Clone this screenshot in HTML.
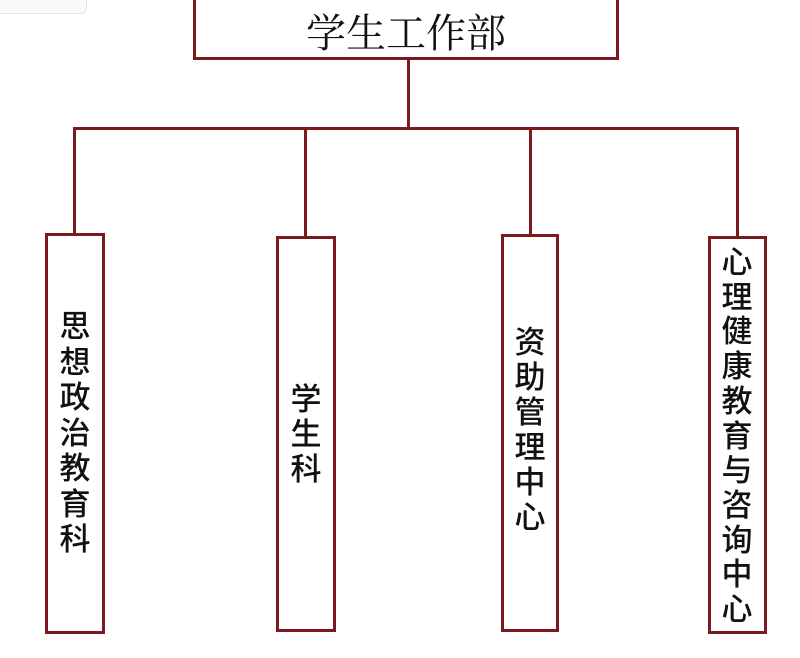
<!DOCTYPE html>
<html><head><meta charset="utf-8"><style>
body{margin:0;width:800px;height:658px;background:#fff;position:relative;overflow:hidden;font-family:"Liberation Sans","Noto Sans CJK SC",sans-serif}
.b{position:absolute;border:3px solid #7a1a1f;box-sizing:border-box;background:#fff}
.l{position:absolute;background:#7a1a1f}
.c{position:absolute;width:40px;text-align:center;font-size:31px;line-height:31px;color:#111;font-weight:500}
</style></head><body>
<div style="position:absolute;left:-10px;top:-10px;width:95px;height:22px;border:1px solid #e4e4e4;border-radius:6px;background:#fafafa"></div>
<div class="b" style="left:193px;top:-3px;width:426px;height:63px"></div>
<div style="position:absolute;left:193px;top:8px;width:426px;text-align:center;font-family:'Noto Serif CJK SC',serif;font-size:40px;line-height:46px;color:#111">学生工作部</div>
<div class="l" style="left:407px;top:60px;width:3px;height:70px"></div>
<div class="l" style="left:73px;top:127px;width:666px;height:3px"></div>
<div class="l" style="left:73px;top:127px;width:3px;height:108px"></div>
<div class="l" style="left:304px;top:127px;width:3px;height:110px"></div>
<div class="l" style="left:529px;top:127px;width:3px;height:108px"></div>
<div class="l" style="left:736px;top:127px;width:3px;height:110px"></div>
<div class="b" style="left:45px;top:233px;width:60px;height:401px"></div>
<div class="b" style="left:276px;top:236px;width:60px;height:396px"></div>
<div class="b" style="left:501px;top:234px;width:58px;height:398px"></div>
<div class="b" style="left:708px;top:236px;width:59px;height:398px"></div>
<div id="t"></div>
<script>
var d=[[75,327,35.5,"思想政治教育科"],[306,400,35,"学生科"],[530,343,35,"资助管理中心"],[737,263,34.7,"心理健康教育与咨询中心"]];
var h="";d.forEach(function(a){for(var i=0;i<a[3].length;i++){h+='<div class="c" style="left:'+(a[0]-20)+'px;top:'+(a[1]+i*a[2]-16)+'px">'+a[3][i]+'</div>';}});
document.getElementById("t").innerHTML=h;
</script>
</body></html>
